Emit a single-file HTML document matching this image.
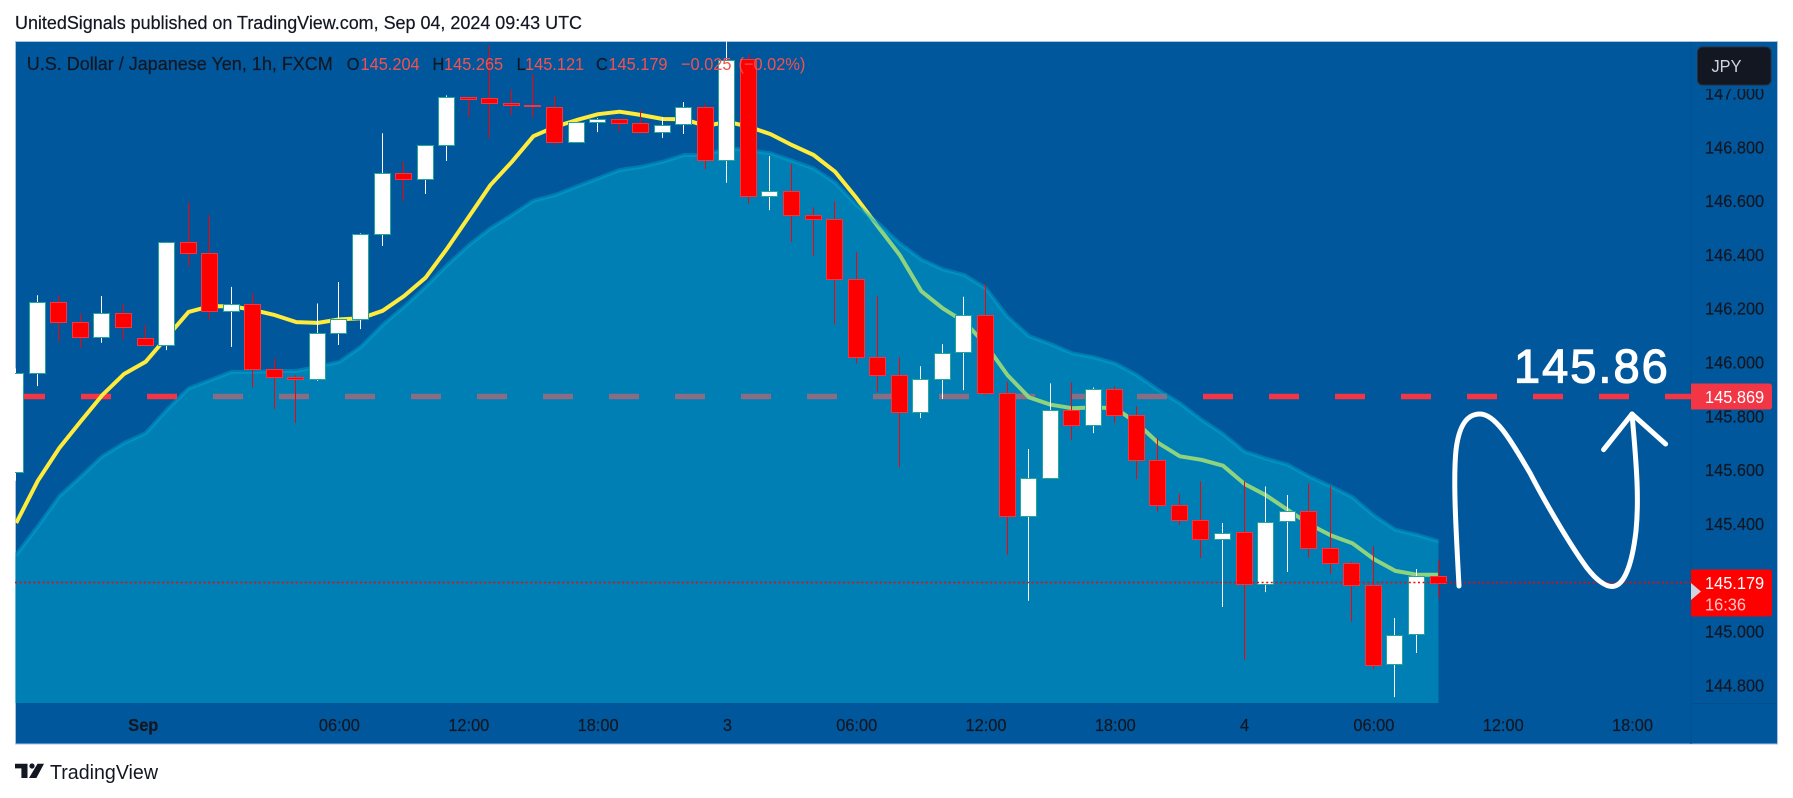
<!DOCTYPE html>
<html lang="en">
<head>
<meta charset="utf-8">
<title>USD/JPY 1h chart</title>
<style>
  html, body { margin: 0; padding: 0; background: #ffffff; }
  svg { display: block; }
  text { font-family: "Liberation Sans", sans-serif; }
</style>
</head>
<body>
<svg id="chart" xmlns="http://www.w3.org/2000/svg" width="1793" height="798" viewBox="0 0 1793 798">
  <defs>
    <clipPath id="plot-clip"><rect x="15" y="41.5" width="1676" height="661.5"/></clipPath>
  </defs>
  <rect x="0" y="0" width="1793" height="798" fill="#ffffff"/>
  <text x="15" y="29" font-size="18" fill="#131722" stroke="#131722" stroke-width="0.2" textLength="567" lengthAdjust="spacingAndGlyphs">UnitedSignals published on TradingView.com, Sep 04, 2024 09:43 UTC</text>
  <rect x="15.5" y="41.5" width="1762" height="702.5" fill="#00579c" stroke="#a9c0de" stroke-width="1"/>
  <line x1="1691" y1="42" x2="1691" y2="744" stroke="#00508f" stroke-width="1"/>
  <line x1="1691" y1="703.5" x2="1777" y2="703.5" stroke="#00508f" stroke-width="1"/>
  <g id="plot" clip-path="url(#plot-clip)"></g>
  <g id="price-axis"></g>
  <g id="time-axis"></g>

  <g fill="none" stroke="#ffffff" stroke-width="5" stroke-linecap="round" stroke-linejoin="round">
    <path d="M1459 586 C1456 530 1453 480 1456 450 C1459 425 1467 414 1480 414 C1497 414 1515 448 1530 473 C1545 502 1570 545 1587 568 C1597 581 1606 586.5 1612 586.5 C1624 586.5 1632 565 1636 531 C1639 500 1637 470 1632 414"/>
    <path d="M1603.6 449.7 L1632 414 L1665.6 444"/>
  </g>
  <text x="1514" y="382.5" font-size="47" fill="#ffffff" stroke="#ffffff" stroke-width="1.2" letter-spacing="2">145.86</text>

  <g font-size="18" stroke-width="0.2">
    <text x="26.8" y="70" fill="#131722" stroke="#131722" textLength="306" lengthAdjust="spacingAndGlyphs">U.S. Dollar / Japanese Yen, 1h, FXCM</text>
    <text transform="translate(346.7 70) scale(0.91 1)" fill="#131722" stroke="#131722">O</text>
    <text transform="translate(360.5 70) scale(0.91 1)" fill="#f4504f">145.204</text>
    <text transform="translate(432.5 70) scale(0.91 1)" fill="#131722" stroke="#131722">H</text>
    <text transform="translate(444 70) scale(0.91 1)" fill="#f4504f">145.265</text>
    <text transform="translate(516.6 70) scale(0.91 1)" fill="#131722" stroke="#131722">L</text>
    <text transform="translate(525 70) scale(0.91 1)" fill="#f4504f">145.121</text>
    <text transform="translate(596 70) scale(0.91 1)" fill="#131722" stroke="#131722">C</text>
    <text transform="translate(608.4 70) scale(0.91 1)" fill="#f4504f">145.179</text>
    <text transform="translate(681 70) scale(0.91 1)" fill="#f4504f">−0.025</text>
    <text transform="translate(738.5 70) scale(0.91 1)" fill="#f4504f">(−0.02%)</text>
  </g>

  <rect x="1692" y="42" width="85" height="47" fill="#00579c"/>
  <g>
    <rect x="1697.5" y="47" width="73.5" height="38" rx="5" fill="#131722" stroke="#2a2e39" stroke-width="1"/>
    <text transform="translate(1711.5 72) scale(0.91 1)" font-size="18" fill="#d1d4dc">JPY</text>
  </g>

  <g>
    <path d="M1691 383.5 H1769 Q1772 383.5 1772 386.5 V406.5 Q1772 409.5 1769 409.5 H1691 Z" fill="#f23645"/>
    <text transform="translate(1705 403) scale(0.91 1)" font-size="18" fill="#ffffff">145.869</text>
  </g>
  <g>
    <path d="M1691 569.5 H1769 Q1772 569.5 1772 572.5 V613.5 Q1772 616.5 1769 616.5 H1691 Z" fill="#ff0000"/>
    <path d="M1691 583 L1701 591.5 L1691 600 Z" fill="#d1d4dc"/>
    <text transform="translate(1705 589) scale(0.91 1)" font-size="18" fill="#ffffff">145.179</text>
    <text transform="translate(1705 610.5) scale(0.91 1)" font-size="18" fill="#ffc4c4">16:36</text>
  </g>

  <g>
    <path d="M15 763.7 H27.5 V778 H21.4 V768.4 H15 Z" fill="#131722"/>
    <circle cx="32" cy="766" r="2.6" fill="#131722"/>
    <path d="M37.5 763.7 H44 L36.4 778 H29 Z" fill="#131722"/>
    <text x="50" y="779" font-size="20" fill="#131722" textLength="108" lengthAdjust="spacingAndGlyphs">TradingView</text>
  </g>
</svg>

<script>
// ---- Data ----
const opens = [145.591,145.958,146.224,146.149,146.091,146.183,146.087,146.061,146.446,146.403,146.188,146.217,145.972,145.945,145.935,146.106,146.158,146.474,146.701,146.679,146.805,146.985,146.980,146.961,146.956,146.948,146.816,146.890,146.902,146.887,146.853,146.883,146.948,146.749,147.125,146.615,146.636,146.545,146.532,146.310,146.017,145.950,145.812,145.935,146.036,146.173,145.883,145.426,145.567,145.823,145.764,145.898,145.803,145.634,145.469,145.413,145.340,145.366,145.173,145.407,145.447,145.310,145.251,145.169,144.876,144.987,145.204];
const highs = [145.976,146.248,146.245,146.180,146.245,146.215,146.137,146.446,146.595,146.546,146.279,146.255,146.013,145.951,146.217,146.297,146.478,146.850,146.745,146.805,146.991,146.985,147.175,147.013,147.070,146.988,146.890,146.906,146.902,146.936,146.909,146.966,146.961,147.250,147.143,146.765,146.735,146.575,146.597,146.407,146.245,146.017,145.984,146.066,146.242,146.289,145.926,145.676,145.920,145.924,145.905,145.910,145.835,145.717,145.509,145.556,145.401,145.556,145.537,145.505,145.548,145.538,145.258,145.315,145.048,145.230,145.265];
const lows = [145.558,145.910,146.075,146.052,146.071,146.084,146.061,146.044,146.357,146.158,146.056,145.905,145.825,145.773,145.930,146.063,146.122,146.431,146.598,146.624,146.747,146.911,146.833,146.918,146.907,146.806,146.816,146.854,146.858,146.853,146.833,146.847,146.716,146.666,146.589,146.564,146.446,146.394,146.139,145.994,145.889,145.609,145.791,145.862,145.895,145.877,145.283,145.112,145.567,145.710,145.735,145.773,145.564,145.444,145.394,145.271,145.089,144.893,145.144,145.219,145.273,145.212,145.035,144.859,144.754,144.918,145.121];
const closes = [145.958,146.224,146.149,146.091,146.183,146.128,146.061,146.446,146.403,146.188,146.215,145.972,145.945,145.935,146.106,146.158,146.474,146.701,146.679,146.805,146.985,146.978,146.961,146.956,146.950,146.816,146.890,146.902,146.887,146.853,146.881,146.948,146.749,147.122,146.615,146.636,146.545,146.532,146.310,146.017,145.950,145.812,145.935,146.034,146.173,145.883,145.426,145.567,145.823,145.764,145.898,145.803,145.634,145.469,145.413,145.340,145.365,145.173,145.406,145.447,145.310,145.251,145.169,144.874,144.985,145.205,145.179];
const fastAverage = [145.401,145.558,145.680,145.780,145.877,145.955,146.000,146.093,146.186,146.207,146.207,146.193,146.174,146.148,146.145,146.158,146.162,146.190,146.245,146.313,146.422,146.539,146.657,146.744,146.839,146.874,146.899,146.921,146.930,146.918,146.903,146.902,146.877,146.893,146.874,146.847,146.806,146.769,146.707,146.608,146.502,146.397,146.263,146.199,146.149,146.063,145.951,145.868,145.841,145.828,145.831,145.828,145.773,145.698,145.649,145.636,145.614,145.546,145.504,145.450,145.397,145.355,145.326,145.267,145.223,145.209,145.209];
const slowAverage = [145.282,145.388,145.500,145.574,145.649,145.698,145.735,145.822,145.901,145.932,145.963,145.963,145.966,145.966,145.982,146.000,146.056,146.137,146.205,146.279,146.360,146.434,146.496,146.546,146.599,146.620,146.651,146.682,146.713,146.725,146.744,146.769,146.769,146.794,146.787,146.775,146.748,146.719,146.666,146.583,146.515,146.440,146.381,146.344,146.323,146.273,146.168,146.096,146.066,146.032,146.017,145.994,145.951,145.895,145.846,145.785,145.732,145.667,145.640,145.618,145.574,145.537,145.497,145.429,145.376,145.357,145.333];
const alertPrice = 145.869;
const lastPrice = 145.179;
const priceTicks = [147.000,146.800,146.600,146.400,146.200,146.000,145.800,145.600,145.400,145.000,144.800];
const timeTickLabels = ["Sep","06:00","12:00","18:00","3","06:00","12:00","18:00","4","06:00","12:00","18:00"];
const timeTickBars = [5.9,15,21,27,33,39,45,51,57,63,69,75];

// ---- Axis functions ----
const SVG_NS = "http://www.w3.org/2000/svg";
const PLOT_LEFT = 15, PLOT_RIGHT = 1691, PLOT_BOTTOM = 703;
function xAt(bar) { return 16.2 + 21.55 * bar; }
function yAt(price) { return 146.7 + (146.8 - price) * 269; }
function make(tag, attrs, parent) {
  const el = document.createElementNS(SVG_NS, tag);
  for (const key in attrs) el.setAttribute(key, attrs[key]);
  parent.appendChild(el);
  return el;
}

const plot = document.getElementById("plot");

// Dashed alert line (sits beneath the average and its band)
const alertLine = make("line", { x1: PLOT_LEFT, x2: PLOT_RIGHT, y1: yAt(alertPrice) - 0.7, y2: yAt(alertPrice) - 0.7, stroke: "#f23645", "stroke-width": 5.5, "stroke-dasharray": "30 36" }, plot);



// Fast average line
const fastPoints = fastAverage.map((v, i) => xAt(i).toFixed(1) + "," + yAt(v).toFixed(1)).join(" ");
const fastLine = make("polyline", { points: fastPoints, fill: "none", stroke: "#ffeb3b", "stroke-width": 4, "stroke-linejoin": "round" }, plot);



// Slow average band
const slowPoints = slowAverage.map((v, i) => xAt(i).toFixed(1) + "," + yAt(v).toFixed(1));
const lastBarX = xAt(slowAverage.length - 1).toFixed(1);
const firstBarX = xAt(0).toFixed(1);
const slowFill = make("polygon", { points: firstBarX + "," + PLOT_BOTTOM + " " + slowPoints.join(" ") + " " + lastBarX + "," + PLOT_BOTTOM, fill: "rgba(0,181,214,0.44)" }, plot);


const leftCap = make("rect", { x: PLOT_LEFT, y: yAt(slowAverage[0]), width: xAt(0) - PLOT_LEFT, height: PLOT_BOTTOM - yAt(slowAverage[0]), fill: "rgba(0,181,214,0.44)" }, plot);


const slowLine = make("polyline", { points: slowPoints.join(" "), fill: "none", stroke: "rgba(0,175,210,0.42)", "stroke-width": 4, "stroke-linejoin": "round" }, plot);



// Candles
opens.forEach((open, i) => {
  const close = closes[i];
  const up = close >= open;
  const cx = Math.round(xAt(i));
  const group = make("g", {}, plot);
  
  
  const wick = make("line", { x1: cx - 0.5, x2: cx - 0.5, y1: yAt(highs[i]), y2: yAt(lows[i]), stroke: up ? "#ffffff" : "#ff0000", "stroke-width": 1 }, group);
  
  
  const top = yAt(Math.max(open, close));
  const bottom = yAt(Math.min(open, close));
  const body = make("rect", { x: cx - 8.5, y: Math.round(top) + 0.5, width: 16, height: Math.max(1, Math.round(bottom) - Math.round(top)), fill: up ? "#ffffff" : "#ff0000", stroke: up ? "#26a69a" : "#f23645", "stroke-width": 1 }, group);
  
  
});

// Last price dotted line
const lastLine = make("line", { x1: PLOT_LEFT, x2: PLOT_RIGHT, y1: yAt(lastPrice) - 0.2, y2: yAt(lastPrice) - 0.2, stroke: "#ff0000", "stroke-width": 1.5, "stroke-dasharray": "2 2.6" }, plot);



// Price axis labels
const priceAxis = document.getElementById("price-axis");
priceTicks.forEach((tick) => {
  const label = make("text", { transform: "translate(1705 " + (yAt(tick) + 6.6).toFixed(1) + ") scale(0.91 1)", "font-size": 18, fill: "#131722", stroke: "#131722", "stroke-width": 0.2 }, priceAxis);
  
  
  label.textContent = tick.toFixed(3);
});

// Time axis labels
const timeAxis = document.getElementById("time-axis");
timeTickLabels.forEach((text, i) => {
  const label = make("text", { transform: "translate(" + xAt(timeTickBars[i]).toFixed(1) + " 731) scale(0.91 1)", "font-size": 18, fill: "#131722", stroke: "#131722", "stroke-width": 0.2, "text-anchor": "middle", "font-weight": text === "Sep" ? "bold" : "normal" }, timeAxis);
  
  
  label.textContent = text;
});
</script>
</body>
</html>
